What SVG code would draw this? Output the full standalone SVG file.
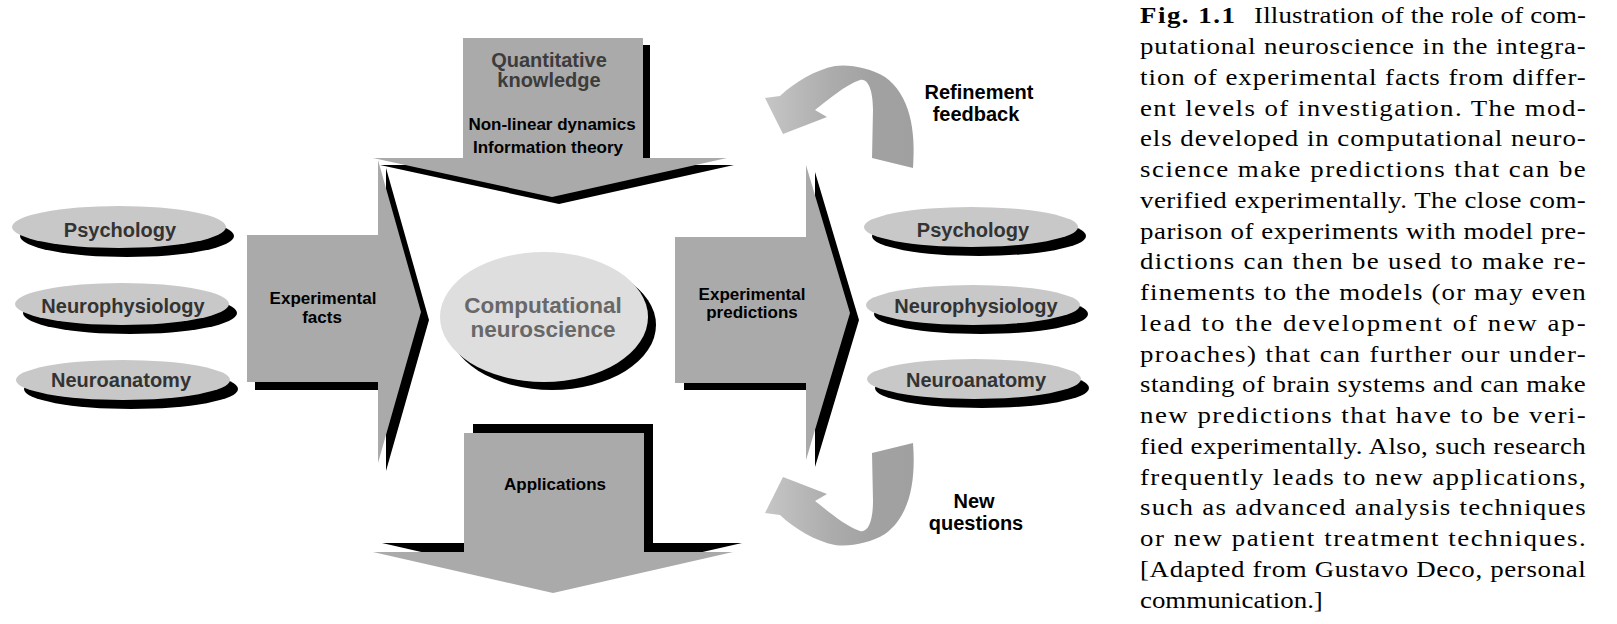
<svg xmlns="http://www.w3.org/2000/svg" width="1617" height="624" viewBox="0 0 1617 624">
<style>
.blk{fill:#aaaaaa}
.shd{fill:#000}
.ell{fill:#c8c8c8}
.lbl{font-family:"Liberation Sans",Arial,sans-serif;font-weight:bold;text-anchor:middle}
.el{font-size:20px;fill:#333}
.ar{font-size:17px;fill:#000}
.qk{font-size:20px;fill:#3c3c3c}
.cn{font-size:22.5px;fill:#686868}
.fb{font-size:20px;fill:#000}
.cap{font-family:"Liberation Serif","Times New Roman",serif;font-size:24px;fill:#000}
</style>
<defs>
<linearGradient id="curv" gradientUnits="userSpaceOnUse" x1="765" y1="0" x2="913" y2="0">
<stop offset="0" stop-color="#c6c6c6"/>
<stop offset="0.45" stop-color="#acacac"/>
<stop offset="0.72" stop-color="#a2a2a2"/>
<stop offset="1" stop-color="#a0a0a0"/>
</linearGradient>
<path id="curvedArrow" d="M913,168 C916,130 910,95 885,77 C870,68 850,64 835,66 C815,70 795,82 780,96 L765,98 L783,134 L827,117 L815,110 C828,100 845,85 860,80 C868,78 873,90 873,110 L872,158 Z"/>
</defs>
<rect width="1617" height="624" fill="#fff"/>

<g id="left-psychology">
<ellipse class="shd" cx="127" cy="236" rx="107" ry="21"/>
<ellipse class="ell" cx="119" cy="227" rx="107" ry="21"/>
<text class="lbl el" x="120" y="237">Psychology</text>
</g>
<g id="left-neurophysiology">
<ellipse class="shd" cx="130" cy="313" rx="107" ry="21"/>
<ellipse class="ell" cx="122" cy="304" rx="107" ry="21"/>
<text class="lbl el" x="123" y="313">Neurophysiology</text>
</g>
<g id="left-neuroanatomy">
<ellipse class="shd" cx="131" cy="389" rx="107" ry="20"/>
<ellipse class="ell" cx="123" cy="380" rx="107" ry="20"/>
<text class="lbl el" x="121" y="387">Neuroanatomy</text>
</g>

<g id="experimental-facts">
<polygon class="shd" transform="translate(8,8)" points="247,235 378,235 378,160 421,312 378,463 378,382 247,382"/>
<polygon class="blk" points="247,235 378,235 378,160 421,312 378,463 378,382 247,382"/>
<text class="lbl ar" x="323" y="304">Experimental</text>
<text class="lbl ar" x="322" y="323">facts</text>
</g>

<g id="experimental-predictions">
<polygon class="shd" transform="translate(9,7)" points="675,237 806,237 806,165 850,313 806,460 806,383 675,383"/>
<polygon class="blk" points="675,237 806,237 806,165 850,313 806,460 806,383 675,383"/>
<text class="lbl ar" x="752" y="300">Experimental</text>
<text class="lbl ar" x="752" y="318">predictions</text>
</g>

<g id="quantitative-knowledge">
<polygon class="shd" transform="translate(7,7)" points="463,38 643,38 643,158 727,158 552,197 373,158 463,158"/>
<polygon class="blk" points="463,38 643,38 643,158 727,158 552,197 373,158 463,158"/>
<text class="lbl qk" x="549" y="67">Quantitative</text>
<text class="lbl qk" x="549" y="87">knowledge</text>
<text class="lbl ar" x="552" y="130">Non-linear dynamics</text>
<text class="lbl ar" x="548" y="153">Information theory</text>
</g>

<g id="applications">
<polygon class="shd" transform="translate(9,-9)" points="464,433 644,433 644,552 733,552 553,593 373,552 464,552"/>
<polygon class="blk" points="464,433 644,433 644,552 733,552 553,593 373,552 464,552"/>
<text class="lbl ar" x="555" y="490">Applications</text>
</g>

<g id="computational-neuroscience">
<ellipse class="shd" cx="552" cy="325" rx="104" ry="65"/>
<ellipse cx="544" cy="317" rx="104" ry="65" fill="#dedede"/>
<text class="lbl cn" x="543" y="313">Computational</text>
<text class="lbl cn" x="543" y="337">neuroscience</text>
</g>

<g id="right-psychology">
<ellipse class="shd" cx="979" cy="236" rx="107" ry="20"/>
<ellipse class="ell" cx="971" cy="227" rx="107" ry="20"/>
<text class="lbl el" x="973" y="237">Psychology</text>
</g>
<g id="right-neurophysiology">
<ellipse class="shd" cx="981" cy="314" rx="107" ry="20"/>
<ellipse class="ell" cx="973" cy="305" rx="107" ry="20"/>
<text class="lbl el" x="976" y="313">Neurophysiology</text>
</g>
<g id="right-neuroanatomy">
<ellipse class="shd" cx="982" cy="388" rx="107" ry="20"/>
<ellipse class="ell" cx="974" cy="379" rx="107" ry="20"/>
<text class="lbl el" x="976" y="387">Neuroanatomy</text>
</g>

<g id="connectors">
<use href="#curvedArrow" fill="url(#curv)"/>
<use href="#curvedArrow" fill="url(#curv)" transform="matrix(1,0,0,-1,0,611)"/>
</g>

<g id="refinement-feedback">
<text class="lbl fb" x="979" y="99">Refinement</text>
<text class="lbl fb" x="976" y="121">feedback</text>
</g>
<g id="new-questions">
<text class="lbl fb" x="974" y="508">New</text>
<text class="lbl fb" x="976" y="530">questions</text>
</g>

<g id="caption" class="cap" transform="translate(1140,0) scale(1.12,1)">
<text x="0" y="23.5" textLength="84.8" lengthAdjust="spacing" font-weight="bold">Fig. 1.1</text>
<text x="101.8" y="23.5" textLength="296.4" lengthAdjust="spacing">Illustration of the role of com-</text>
<text x="0" y="54.25" textLength="398" lengthAdjust="spacing">putational neuroscience in the integra-</text>
<text x="0" y="85" textLength="398" lengthAdjust="spacing">tion of experimental facts from differ-</text>
<text x="0" y="115.75" textLength="398" lengthAdjust="spacing">ent levels of investigation.  The mod-</text>
<text x="0" y="146.5" textLength="398" lengthAdjust="spacing">els developed in computational neuro-</text>
<text x="0" y="177.25" textLength="398" lengthAdjust="spacing">science make predictions that can be</text>
<text x="0" y="208" textLength="398" lengthAdjust="spacing">verified experimentally. The close com-</text>
<text x="0" y="238.75" textLength="398" lengthAdjust="spacing">parison of experiments with model pre-</text>
<text x="0" y="269.5" textLength="398" lengthAdjust="spacing">dictions can then be used to make re-</text>
<text x="0" y="300.25" textLength="398" lengthAdjust="spacing">finements to the models (or may even</text>
<text x="0" y="331" textLength="398" lengthAdjust="spacing">lead to the development of new ap-</text>
<text x="0" y="361.75" textLength="398" lengthAdjust="spacing">proaches) that can further our under-</text>
<text x="0" y="392.5" textLength="398" lengthAdjust="spacing">standing of brain systems and can make</text>
<text x="0" y="423.25" textLength="398" lengthAdjust="spacing">new predictions that have to be veri-</text>
<text x="0" y="454" textLength="398" lengthAdjust="spacing">fied experimentally. Also, such research</text>
<text x="0" y="484.75" textLength="398" lengthAdjust="spacing">frequently leads to new applications,</text>
<text x="0" y="515.5" textLength="398" lengthAdjust="spacing">such as advanced analysis techniques</text>
<text x="0" y="546.25" textLength="398" lengthAdjust="spacing">or new patient treatment techniques.</text>
<text x="0" y="577" textLength="398" lengthAdjust="spacing">[Adapted from Gustavo Deco, personal</text>
<text x="0" y="607.75">communication.]</text>
</g>
</svg>
